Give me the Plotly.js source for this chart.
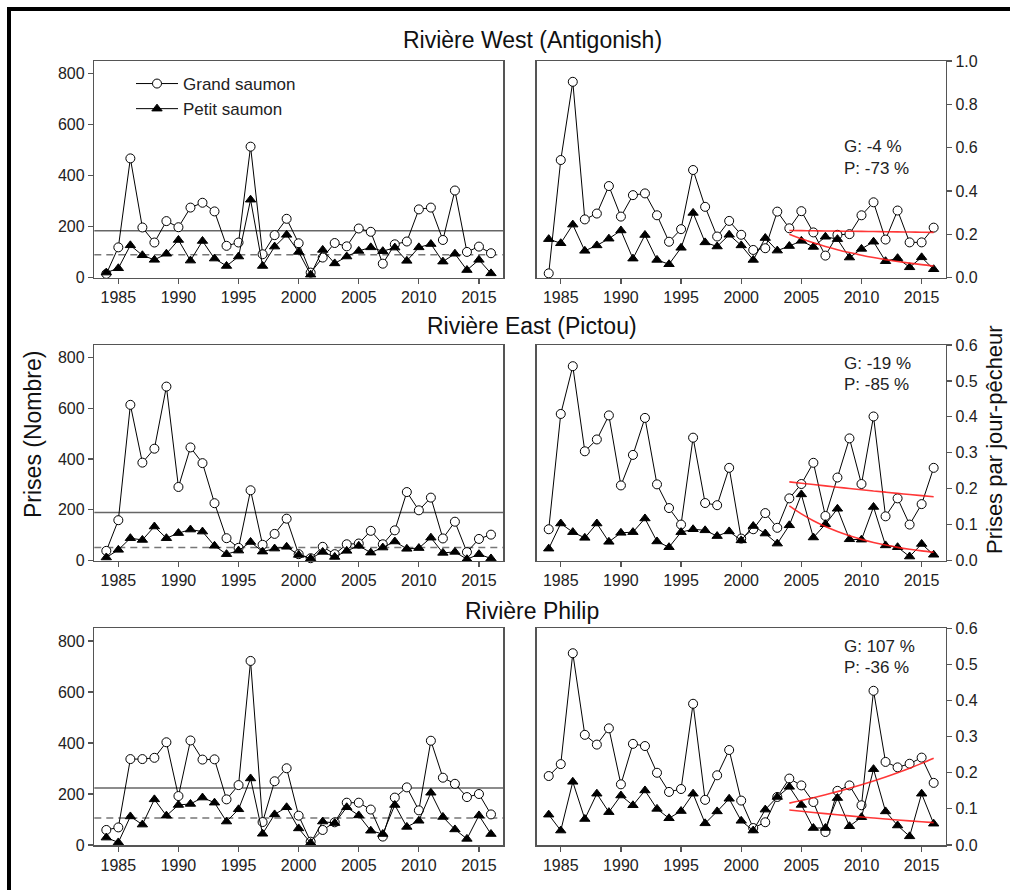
<!DOCTYPE html>
<html>
<head>
<meta charset="utf-8">
<script src="https://cdn.plot.ly/plotly-3.0.1.min.js"></script>
<style>
  html, body { margin: 0; padding: 0; background: #fff; }
  #chart { width: 1010px; height: 890px; }
</style>
</head>
<body>
<div id="chart"></div>
<script>
// Years of the angling series
const years = [1984, 1985, 1986, 1987, 1988, 1989, 1990, 1991, 1992, 1993, 1994,
               1995, 1996, 1997, 1998, 1999, 2000, 2001, 2002, 2003, 2004, 2005,
               2006, 2007, 2008, 2009, 2010, 2011, 2012, 2013, 2014, 2015, 2016];

// Rivière West (Antigonish): catches (number) and catch per rod-day
const westGrandNombre = [15, 119, 468, 197, 138, 222, 198, 275, 294, 260, 125, 138, 514, 92, 167, 231, 135,
                         20, 79, 136, 123, 193, 180, 55, 131, 142, 268, 275, 148, 342, 101, 122, 96];
const westPetitNombre = [20, 37, 127, 88, 70, 94, 148, 67, 144, 75, 46, 83, 306, 46, 122, 168, 101,
                         12, 109, 56, 83, 105, 119, 104, 118, 66, 119, 132, 63, 94, 30, 70, 17];
const westGrandCPUE = [0.020, 0.543, 0.904, 0.269, 0.296, 0.423, 0.282, 0.381, 0.389, 0.288, 0.166,
                       0.224, 0.497, 0.327, 0.190, 0.262, 0.198, 0.128, 0.136, 0.305, 0.228, 0.307,
                       0.209, 0.102, 0.198, 0.201, 0.288, 0.348, 0.176, 0.310, 0.163, 0.163, 0.231];
const westPetitCPUE = [0.178, 0.159, 0.245, 0.124, 0.149, 0.180, 0.218, 0.088, 0.197, 0.082, 0.062,
                       0.138, 0.299, 0.163, 0.144, 0.198, 0.149, 0.082, 0.183, 0.125, 0.146, 0.170,
                       0.142, 0.189, 0.178, 0.093, 0.133, 0.166, 0.076, 0.090, 0.048, 0.094, 0.039];
const westMeans = [184, 90];           // mean catch: grand, petit
const westTrendStart = [0.218, 0.200]; // fitted value in 2004: grand, petit
const westChange = [-4, -73];          // % change 2004-2016: grand, petit

// Rivière East (Pictou)
const eastGrandNombre = [38, 159, 614, 386, 441, 686, 290, 446, 384, 226, 88, 50, 277, 62, 105, 165, 25,
                         9, 54, 25, 64, 67, 117, 64, 119, 270, 198, 248, 87, 153, 33, 85, 102];
const eastPetitNombre = [12, 42, 88, 81, 134, 88, 108, 122, 114, 58, 25, 39, 73, 35, 47, 54, 22,
                         8, 34, 14, 38, 58, 31, 51, 75, 46, 49, 90, 30, 34, 5, 25, 8];
const eastGrandCPUE = [0.087, 0.408, 0.541, 0.304, 0.337, 0.404, 0.209, 0.294, 0.397, 0.212, 0.146,
                       0.100, 0.342, 0.160, 0.154, 0.258, 0.061, 0.087, 0.132, 0.091, 0.173, 0.213,
                       0.272, 0.124, 0.231, 0.340, 0.213, 0.401, 0.123, 0.173, 0.100, 0.157, 0.258];
const eastPetitCPUE = [0.033, 0.103, 0.079, 0.063, 0.103, 0.052, 0.077, 0.079, 0.117, 0.053, 0.037,
                       0.079, 0.087, 0.084, 0.068, 0.081, 0.056, 0.096, 0.075, 0.047, 0.098, 0.184,
                       0.064, 0.101, 0.144, 0.059, 0.058, 0.149, 0.042, 0.037, 0.011, 0.046, 0.016];
const eastMeans = [189, 51];
const eastTrendStart = [0.219, 0.152];
const eastChange = [-19, -85];

// Rivière Philip
const philipGrandNombre = [59, 69, 337, 337, 342, 403, 192, 410, 335, 336, 179, 235, 722, 90, 250, 301, 115,
                           13, 59, 89, 166, 166, 139, 33, 186, 226, 136, 409, 264, 240, 188, 200, 120];
const philipPetitNombre = [29, 10, 112, 80, 179, 115, 157, 161, 186, 166, 92, 140, 261, 44, 120, 148, 65,
                           8, 92, 86, 148, 116, 56, 43, 157, 71, 95, 205, 110, 61, 24, 116, 43];
const philipGrandCPUE = [0.191, 0.224, 0.531, 0.305, 0.278, 0.323, 0.168, 0.280, 0.274, 0.200, 0.147,
                         0.155, 0.391, 0.125, 0.193, 0.263, 0.123, 0.047, 0.063, 0.133, 0.184, 0.165,
                         0.119, 0.036, 0.150, 0.165, 0.110, 0.427, 0.230, 0.215, 0.225, 0.242, 0.172];
const philipPetitCPUE = [0.084, 0.040, 0.175, 0.072, 0.142, 0.091, 0.137, 0.110, 0.151, 0.100, 0.074,
                         0.094, 0.142, 0.060, 0.093, 0.128, 0.067, 0.040, 0.098, 0.133, 0.161, 0.111,
                         0.047, 0.047, 0.130, 0.052, 0.077, 0.210, 0.093, 0.054, 0.024, 0.142, 0.059];
const philipMeans = [224, 106];
const philipTrendStart = [0.116, 0.097];
const philipChange = [107, -36];

const riverNames = ['Rivière West (Antigonish)', 'Rivière East (Pictou)', 'Rivière Philip'];
const seriesNames = ['Grand saumon', 'Petit saumon'];
const xTicks = [1985, 1990, 1995, 2000, 2005, 2010, 2015];
const countTicks = [0, 200, 400, 600, 800];
const trendYears = [2004, 2005, 2006, 2007, 2008, 2009, 2010, 2011, 2012, 2013, 2014, 2015, 2016];

const rivers = [
  { counts: [westGrandNombre, westPetitNombre], cpue: [westGrandCPUE, westPetitCPUE],
    means: westMeans, trendStart: westTrendStart, change: westChange, cpueMax: 1.0, cpueStep: 0.2 },
  { counts: [eastGrandNombre, eastPetitNombre], cpue: [eastGrandCPUE, eastPetitCPUE],
    means: eastMeans, trendStart: eastTrendStart, change: eastChange, cpueMax: 0.6, cpueStep: 0.1 },
  { counts: [philipGrandNombre, philipPetitNombre], cpue: [philipGrandCPUE, philipPetitCPUE],
    means: philipMeans, trendStart: philipTrendStart, change: philipChange, cpueMax: 0.6, cpueStep: 0.1 }
];

// ---- page geometry (pixels) ----
const W = 1010, H = 890;
const colLeft = [94.3, 503], colRight = [536.7, 945.7];
const rowsPx = [[61, 277.7], [345, 560.5], [628.3, 845]];
const titleY = [40, 326, 611];
const fx = px => px / W;
const fy = px => 1 - px / H;

const FONT = 'Liberation Sans, Arial, Helvetica, sans-serif';
const frameColor = '#555';
const markerStyles = [
  { symbol: 'circle', size: 9, color: '#fff', line: { color: '#000', width: 1 } },
  { symbol: 'triangle-up', size: 9, color: '#000', line: { color: '#000', width: 1 } }
];

const traces = [];
const layout = {
  width: W, height: H,
  margin: { l: 0, r: 0, t: 0, b: 0 },
  paper_bgcolor: '#fff', plot_bgcolor: '#fff',
  font: { family: FONT, color: '#222' },
  showlegend: true,
  legend: {
    x: fx(131), y: fy(66), xanchor: 'left', yanchor: 'top',
    bgcolor: 'rgba(0,0,0,0)', borderwidth: 0,
    font: { family: FONT, size: 17, color: '#222' },
    itemwidth: 42, tracegroupgap: 0
  },
  shapes: [], annotations: []
};

function axisBase(domain) {
  return {
    domain: domain, showline: true, mirror: true, linecolor: frameColor, linewidth: 1.5,
    ticks: 'outside', ticklen: 5, tickwidth: 1.2, tickcolor: frameColor,
    showgrid: false, zeroline: false, fixedrange: true,
    tickfont: { family: FONT, size: 16, color: '#222' }
  };
}

rivers.forEach((r, i) => {
  const yDom = [fy(rowsPx[i][1]), fy(rowsPx[i][0])];
  const nL = 2 * i + 1, nR = 2 * i + 2;
  const xL = 'x' + nL, yL = 'y' + nL, xR = 'x' + nR, yR = 'y' + nR;

  // x axes
  layout['xaxis' + nL] = Object.assign(axisBase([fx(colLeft[0]), fx(colLeft[1])]),
    { anchor: yL, range: [1983, 2017], tickvals: xTicks });
  layout['xaxis' + nR] = Object.assign(axisBase([fx(colRight[0]), fx(colRight[1])]),
    { anchor: yR, range: [1983, 2017], tickvals: xTicks });
  // y axes
  layout['yaxis' + nL] = Object.assign(axisBase(yDom),
    { anchor: xL, range: [0, 850], tickvals: countTicks, side: 'left' });
  const cTicks = [];
  for (let k = 0; k <= Math.round(r.cpueMax / r.cpueStep); k++) cTicks.push(+(k * r.cpueStep).toFixed(1));
  layout['yaxis' + nR] = Object.assign(axisBase(yDom),
    { anchor: xR, range: [0, r.cpueMax], tickvals: cTicks, tickformat: '.1f', side: 'right' });

  // mean catch reference lines (solid = grand, dashed = petit)
  r.means.forEach((m, s) => {
    layout.shapes.push({
      type: 'line', xref: xL + ' domain', yref: yL, x0: 0, x1: 1, y0: m, y1: m,
      line: { color: s === 0 ? '#666' : '#777', width: 1.5, dash: s === 0 ? 'solid' : '7px,5px' },
      layer: 'below'
    });
  });

  // catch series
  [0, 1].forEach(s => {
    traces.push({
      type: 'scatter', mode: 'lines+markers', x: years, y: r.counts[s],
      xaxis: xL, yaxis: yL, name: seriesNames[s],
      showlegend: i === 0, legendrank: s + 1,
      line: { color: '#000', width: 1 }, marker: markerStyles[s], cliponaxis: false
    });
  });
  // catch per rod-day series
  [0, 1].forEach(s => {
    traces.push({
      type: 'scatter', mode: 'lines+markers', x: years, y: r.cpue[s],
      xaxis: xR, yaxis: yR, name: seriesNames[s], showlegend: false,
      line: { color: '#000', width: 1 }, marker: markerStyles[s], cliponaxis: false
    });
  });
  // exponential trend 2004-2016, built from the fitted start value and stated % change
  [0, 1].forEach(s => {
    const ratio = 1 + r.change[s] / 100;
    const span = trendYears[trendYears.length - 1] - trendYears[0];
    traces.push({
      type: 'scatter', mode: 'lines', x: trendYears,
      y: trendYears.map(t => r.trendStart[s] * Math.pow(ratio, (t - trendYears[0]) / span)),
      xaxis: xR, yaxis: yR, showlegend: false, hoverinfo: 'skip',
      line: { color: 'rgba(255,20,20,0.85)', width: 1.6, shape: 'spline' }
    });
  });

  // river title
  layout.annotations.push({
    xref: 'paper', yref: 'paper', x: fx(532), y: fy(titleY[i]),
    xanchor: 'center', yanchor: 'middle', showarrow: false,
    text: riverNames[i], font: { family: FONT, size: 23, color: '#111' }
  });
  // percent-change labels
  const gy = [147, 363, 646][i];
  layout.annotations.push({
    xref: 'paper', yref: 'paper', x: fx(842), y: fy(gy), xanchor: 'left', yanchor: 'middle',
    showarrow: false, text: 'G: ' + r.change[0] + ' %', font: { family: FONT, size: 17, color: '#222' }
  });
  layout.annotations.push({
    xref: 'paper', yref: 'paper', x: fx(842), y: fy(gy + 21.5), xanchor: 'left', yanchor: 'middle',
    showarrow: false, text: 'P: ' + r.change[1] + ' %', font: { family: FONT, size: 17, color: '#222' }
  });
});

// shared axis titles
layout.annotations.push({
  xref: 'paper', yref: 'paper', x: fx(33), y: fy(435), xanchor: 'center', yanchor: 'middle',
  showarrow: false, textangle: -90, text: 'Prises (Nombre)',
  font: { family: FONT, size: 23, color: '#111' }
});
layout.annotations.push({
  xref: 'paper', yref: 'paper', x: fx(994), y: fy(440), xanchor: 'center', yanchor: 'middle',
  showarrow: false, textangle: -90, text: 'Prises par jour-pêcheur',
  font: { family: FONT, size: 22, color: '#111' }
});

// black frame on the top and left edges of the figure
layout.shapes.push({ type: 'line', xref: 'paper', yref: 'paper', x0: fx(7), x1: 1.01, y0: fy(9), y1: fy(9),
                     line: { color: '#000', width: 4 } });
layout.shapes.push({ type: 'line', xref: 'paper', yref: 'paper', x0: fx(9), x1: fx(9), y0: -0.01, y1: fy(7),
                     line: { color: '#000', width: 4 } });

Plotly.newPlot('chart', traces, layout, { displayModeBar: false, staticPlot: true });
</script>
</body>
</html>
